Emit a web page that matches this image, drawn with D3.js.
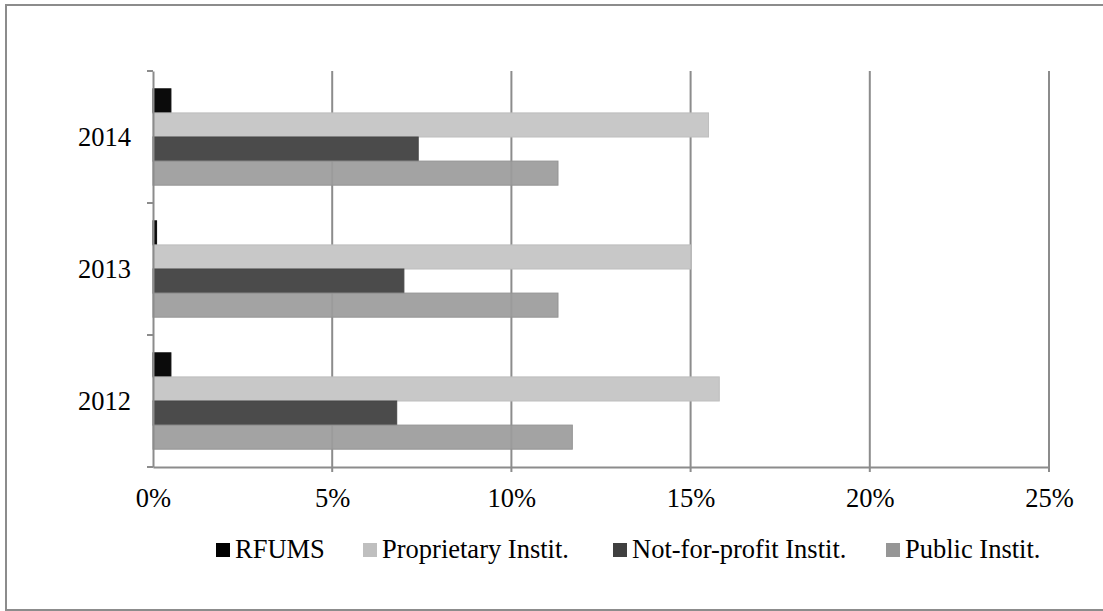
<!DOCTYPE html>
<html>
<head>
<meta charset="utf-8">
<script src="https://cdn.jsdelivr.net/npm/d3@7"></script>
<style>
html,body{margin:0;padding:0;background:#fff;}
svg{display:block;}
svg text{font-family:"Liberation Serif","Times New Roman",Times,"DejaVu Serif",serif !important;fill:#000;}
</style>
</head>
<body>
<svg id="chart" width="1103" height="611"></svg>
<script>
const years = ["2014", "2013", "2012"];
const seriesNames = ["RFUMS", "Proprietary Instit.", "Not-for-profit Instit.", "Public Instit."];
const rfums        = [0.5, 0.1, 0.5];
const proprietary  = [15.5, 15.0, 15.8];
const notForProfit = [7.4, 7.0, 6.8];
const publicInst   = [11.3, 11.3, 11.7];
const xTicks = [0, 5, 10, 15, 20, 25];
const seriesColors = ["#0b0b0b", "#c8c8c8", "#4b4b4b", "#9c9c9c"];
const legendColors = ["#000000", "#bfbfbf", "#404040", "#969696"];

const seriesValues = [rfums, proprietary, notForProfit, publicInst];
const data = years.map((y, i) => ({year: y, values: seriesNames.map((s, j) => ({name: s, idx: j, v: seriesValues[j][i]}))}));

const serif = '"Liberation Serif","Times New Roman",Times,"DejaVu Serif",serif';
const fs = 26.5;
const svg = d3.select("#chart").attr("font-family", serif);
svg.append("rect").attr("x", 6).attr("y", 5).attr("width", 1100).attr("height", 605)
  .attr("fill", "none").attr("stroke", "#8c8c8c").attr("stroke-width", 2);

const pL = 153, pR = 1049, pT = 71, pB = 467;
const x = d3.scaleLinear().domain([0, 25]).range([pL, pR]);
const y0 = d3.scaleBand().domain(years).range([pT, pB]).paddingInner(0.27).paddingOuter(0.135);
const y1 = d3.scaleBand().domain(seriesNames).range([0, y0.bandwidth()]).padding(0);

// gridlines
svg.append("g").selectAll("line").data(xTicks.filter(t => t > 0)).join("line")
  .attr("x1", d => x(d)).attr("x2", d => x(d))
  .attr("y1", pT).attr("y2", pB + 5)
  .attr("stroke", "#8c8c8c").attr("stroke-width", 2);

// bars
const groups = svg.append("g").selectAll("g").data(data).join("g")
  .attr("transform", d => `translate(0,${y0(d.year)})`);
groups.selectAll("rect").data(d => d.values).join("rect")
  .attr("x", x(0)).attr("y", d => y1(d.name))
  .attr("width", d => x(d.v) - x(0)).attr("height", y1.bandwidth())
  .attr("fill", d => seriesColors[d.idx])
  .attr("fill-opacity", d => d.idx === 3 ? 0.93 : 1)
  .attr("stroke", d => d3.color(seriesColors[d.idx]).darker(0.15))
  .attr("stroke-width", 1);

// axes
const xAxis = d3.axisBottom(x).tickValues(xTicks).tickFormat(d => d + "%").tickSize(0).tickPadding(0);
const gx = svg.append("g").attr("transform", `translate(0,${pB})`).call(xAxis)
  .attr("font-family", serif).attr("font-size", fs);
gx.select(".domain").attr("stroke", "#8c8c8c").attr("stroke-width", 2);
gx.selectAll("text").attr("y", 40).attr("dy", null);

const yAxis = d3.axisLeft(y0).tickSize(0).tickPadding(22);
const gy = svg.append("g").attr("transform", `translate(${pL},0)`).call(yAxis)
  .attr("font-family", serif).attr("font-size", fs);
gy.select(".domain").attr("stroke", "#8c8c8c").attr("stroke-width", 2);
gy.selectAll("text").attr("dy", "0.35em");

// category boundary ticks
const boundaries = [pT, ...years.slice(1).map(y => y0(y) - (y0.step() - y0.bandwidth()) / 2), pB];
svg.append("g").selectAll("line").data(boundaries).join("line")
  .attr("x1", pL - 6).attr("x2", pL).attr("y1", d => d).attr("y2", d => d)
  .attr("stroke", "#8c8c8c").attr("stroke-width", 2);

// legend
const legendX = [216, 363, 613, 886];
const lg = svg.append("g").attr("font-family", serif).attr("font-size", fs)
  .selectAll("g").data(seriesNames).join("g")
  .attr("transform", (d, i) => `translate(${legendX[i]},543)`);
lg.append("rect").attr("width", 14).attr("height", 14).attr("fill", (d, i) => legendColors[i]);
lg.append("text").attr("x", 19).attr("y", 14.5).text(d => d);
</script>
</body>
</html>
